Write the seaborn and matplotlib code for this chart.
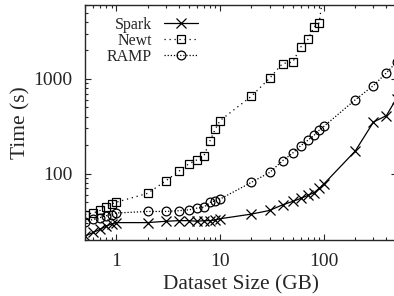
import pandas as pd
import seaborn as sns
import matplotlib.pyplot as plt
from matplotlib.ticker import FixedLocator, FixedFormatter, LogLocator, NullFormatter

# Dataset sizes (GB)
sizes_small = [0.5, 0.6, 0.7, 0.8, 0.9, 1, 2, 3, 4, 5, 6, 7, 8, 9, 10,
               20, 30, 40, 50, 60, 70, 80, 90, 100]
sizes_big = [200, 300, 400, 500]

# Times (s)
spark_time = [22, 24, 26, 28, 29.5, 30.5, 30.5, 31.5, 32, 32, 31.5, 32, 32, 32.5, 33.5,
              37.5, 41, 47, 51, 55, 59, 63, 70, 78, 173, 350, 410, 620]
newt_time = [37, 38.5, 41, 45, 48, 50, 62, 84, 106, 127, 140, 155, 223, 296, 363,
             655, 1015, 1450, 1500, 2170, 2600, 3500, 3900, 9000]
ramp_time = [31, 33, 34.5, 36, 37, 38.5, 40, 40, 40.7, 41.6, 43.4, 44.5, 49.8, 52, 54,
             81, 103, 137, 165, 198, 225, 253, 287, 316, 600, 850, 1157, 1500]

systems = ["Spark", "Newt", "RAMP"]
series = {
    "Spark": (sizes_small + sizes_big, spark_time),
    "Newt": (sizes_small, newt_time),
    "RAMP": (sizes_small + sizes_big, ramp_time),
}
markers = {"Spark": "x", "Newt": "s", "RAMP": "o"}
linestyles = {"Spark": "-", "Newt": (0, (1, 3)), "RAMP": (0, (1, 1.5))}
msizes = {"Spark": 7, "Newt": 6.3, "RAMP": 6.3}

sns.set_style("ticks")
plt.rcParams["font.family"] = ["Liberation Serif", "DejaVu Serif"]

fig = plt.figure(figsize=(3.94, 2.96), dpi=100)
ax = fig.add_axes([85 / 394, 56 / 296, 311.5 / 394, 235 / 296])

for name in systems:
    xs, ys = series[name]
    d = pd.DataFrame({"size": xs, "time": ys})
    sns.lineplot(
        data=d, x="size", y="time", ax=ax, color="k", linewidth=0.9,
        marker=markers[name], markersize=msizes[name], linestyle=linestyles[name],
        markerfacecolor="none", markeredgecolor="k", markeredgewidth=0.9,
    )
for ln in ax.lines:
    ln.set_markerfacecolor("none")

ax.set_xscale("log")
ax.set_yscale("log")
ax.set_xlim(0.5, 500)
ax.set_ylim(20, 6000)

ax.xaxis.set_major_locator(FixedLocator([1, 10, 100]))
ax.xaxis.set_major_formatter(FixedFormatter(["1", "10", "100"]))
ax.yaxis.set_major_locator(FixedLocator([100, 1000]))
ax.yaxis.set_major_formatter(FixedFormatter(["100", "1000"]))
for axis in (ax.xaxis, ax.yaxis):
    axis.set_minor_locator(LogLocator(base=10, subs=range(2, 10), numticks=20))
    axis.set_minor_formatter(NullFormatter())

ax.tick_params(which="both", direction="in", top=True, right=True, labelsize=14, width=0.8)
ax.tick_params(which="major", length=4)
ax.tick_params(which="minor", length=2.2)
ax.tick_params(axis="x", which="major", pad=9)
ax.tick_params(axis="y", which="major", pad=9)
for sp in ax.spines.values():
    sp.set_linewidth(1)

ax.set_xlabel("Dataset Size (GB)", fontsize=15.4, labelpad=4)
ax.set_ylabel("Time (s)", fontsize=15.4, labelpad=2)

leg = ax.legend(
    ax.lines, systems, markerfirst=False, frameon=False, fontsize=11.5,
    handlelength=2.1, handletextpad=0.8, labelspacing=0.0,
    borderpad=0, borderaxespad=0,
    loc="upper right", bbox_to_anchor=(198 / 394, 279 / 296),
    bbox_transform=fig.transFigure,
)

plt.savefig("out.png", dpi=100)
